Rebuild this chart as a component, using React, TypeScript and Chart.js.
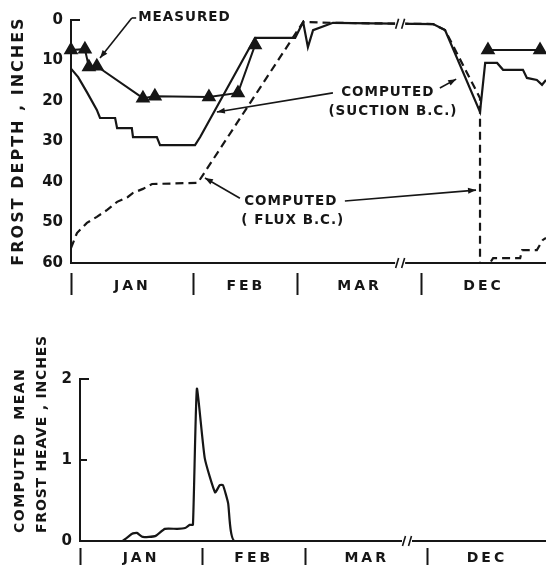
import React, { useEffect, useRef } from "react";
import { Chart, registerables } from "chart.js";

Chart.register(...registerables);

const INK = "#161616";
const FONT = "'DejaVu Sans', sans-serif";

// ---- x axis (time, in day-like units) ----
const monthLabels = ["JAN", "FEB", "MAR", "DEC"];
const monthStarts = [0, 30.9, 57.1, 88.1];
const depthAxisEnd = 119.5;
const heaveAxisEnd = 118;
const axisBreak = 82.8;

// ---- y ticks ----
const depthTicks = [0, 10, 20, 30, 40, 50, 60];
const heaveTicks = [0, 1, 2];

// ---- frost depth: measured ----
const measuredX = [0, 3.5, 4.5, 6.5, 18.1, 21.1, 34.7, 42.0, 46.3, 75, 104.9, 118.0];
const measuredY = [7.4, 7.2, 11.6, 11.4, 19.3, 18.8, 19.0, 18.0, 6.2, null, 7.4, 7.4];

// ---- frost depth: computed (suction B.C.) ----
const suctionX = [0, 1.8, 4.0, 6.5, 7.3, 11.1, 11.6, 15.3, 15.6, 21.6, 22.4, 31.2, 32.5, 46.3, 56.4, 58.4, 59.6, 60.9, 65.9, 91.1, 94.1, 102.9, 104.2, 107.2, 108.7, 113.7, 114.7, 117.2, 118.5, 119.5];
const suctionY = [12.0, 14.1, 17.8, 22.2, 24.2, 24.2, 26.7, 26.7, 28.9, 28.9, 30.9, 30.9, 28.9, 4.4, 4.4, 0.5, 6.7, 2.5, 0.7, 1.0, 2.5, 22.7, 10.6, 10.6, 12.3, 12.3, 14.3, 14.8, 16.0, 14.8];

// ---- frost depth: computed (flux B.C.) ----
const fluxX = [0, 1.5, 4.0, 6.5, 9.1, 11.6, 14.3, 15.6, 18.1, 20.4, 31.9, 58.4, 65.9, 91.1, 94.1, 102.9, 102.9, 105.4, 106.2, 113.0, 113.5, 117.2, 118.7, 119.5];
const fluxY = [56.3, 52.6, 50.1, 48.6, 46.9, 44.9, 43.7, 42.7, 41.7, 40.5, 40.2, 0.5, 0.7, 1.0, 2.5, 19.3, 60, 60, 58.8, 58.8, 56.8, 56.8, 54.3, 53.8];

// ---- computed mean frost heave ----
const heaveX = [0, 10.6, 13.2, 14.4, 15.9, 19.0, 21.5, 24.6, 26.6, 27.8, 28.6, 29.6, 31.6, 34.2, 35.4, 36.2, 37.5, 39.2, 118];
const heaveY = [0, 0, 0.09, 0.1, 0.05, 0.06, 0.15, 0.15, 0.16, 0.2, 0.2, 1.88, 1.02, 0.6, 0.69, 0.69, 0.47, 0, 0];

// ---- annotation labels (data coordinates) ----
const labelTexts = ["MEASURED", "COMPUTED", "(SUCTION B.C.)", "COMPUTED", "( FLUX B.C.)"];
const labelX = [16.9, 79.7, 81.0, 55.3, 55.8];
const labelY = [-0.5, 17.8, 22.7, 44.7, 49.4];
const labelAlign = ["left", "center", "center", "center", "center"];
// leader arrows: [fromX, fromY, toX, toY]
const leaders = [
  [15.3, -0.5, 7.3, 9.4],
  [65.9, 18.0, 36.7, 22.7],
  [92.8, 16.8, 96.9, 14.6],
  [42.5, 44.0, 33.7, 39.0],
  [68.9, 44.7, 101.9, 42.0],
];

const zip = (xs: number[], ys: (number | null)[]) => xs.map((x, i) => ({ x, y: ys[i] }));

function monthAxis(end: number, height: number, gap: number, labelPad: number) {
  const centers = monthStarts.map((s, i) => (s + (i + 1 < monthStarts.length ? monthStarts[i + 1] : end)) / 2);
  const values = [...monthStarts, ...centers];
  const n = monthStarts.length;
  return {
    type: "linear",
    min: 0,
    max: end,
    afterBuildTicks: (s: any) => {
      s.ticks = values.map((v) => ({ value: v }));
    },
    afterFit: (s: any) => {
      s.height = height;
    },
    ticks: {
      autoSkip: false,
      maxRotation: 0,
      minRotation: 0,
      padding: labelPad,
      z: 1,
      color: INK,
      font: { family: FONT, size: 14, weight: "bold" },
      callback: (_v: any, i: number) => (i >= n ? monthLabels[i - n] : ""),
    },
    grid: {
      display: true,
      drawOnChartArea: false,
      drawTicks: true,
      tickLength: 32,
      tickWidth: 2,
      tickColor: (c: any) => (c.index < n ? INK : "rgba(0,0,0,0)"),
      tickBorderDash: [0, gap, 40, 100],
    },
    border: { display: true, color: INK, width: 2 },
  };
}

function arrow(ctx: CanvasRenderingContext2D, x1: number, y1: number, x2: number, y2: number) {
  ctx.beginPath();
  ctx.moveTo(x1, y1);
  ctx.lineTo(x2, y2);
  ctx.stroke();
  const a = Math.atan2(y2 - y1, x2 - x1);
  const L = 8, W = 3;
  ctx.beginPath();
  ctx.moveTo(x2, y2);
  ctx.lineTo(x2 - L * Math.cos(a) + W * Math.sin(a), y2 - L * Math.sin(a) - W * Math.cos(a));
  ctx.lineTo(x2 - L * Math.cos(a) - W * Math.sin(a), y2 - L * Math.sin(a) + W * Math.cos(a));
  ctx.closePath();
  ctx.fill();
}

function drawBreak(ctx: CanvasRenderingContext2D, x: number, y: number) {
  ctx.save();
  ctx.fillStyle = "#fff";
  ctx.fillRect(x - 5, y - 3, 10, 6);
  ctx.strokeStyle = INK;
  ctx.lineWidth = 1.6;
  for (const dx of [-3, 3]) {
    ctx.beginPath();
    ctx.moveTo(x + dx - 1.5, y + 5);
    ctx.lineTo(x + dx + 1.5, y - 5);
    ctx.stroke();
  }
  ctx.restore();
}

function rotatedText(ctx: CanvasRenderingContext2D, text: string, x: number, y: number, align: CanvasTextAlign) {
  ctx.save();
  ctx.translate(x, y);
  ctx.rotate(-Math.PI / 2);
  ctx.textAlign = align;
  ctx.textBaseline = "middle";
  ctx.fillText(text, 0, 0);
  ctx.restore();
}

const spacingPlugin = {
  id: "spacing",
  beforeDraw(chart: any) {
    chart.ctx.letterSpacing = "0px";
  },
  afterDatasetsDraw(chart: any) {
    chart.ctx.letterSpacing = "3px";
  },
};

const depthDecor = {
  id: "depthDecor",
  afterDraw(chart: any) {
    const ctx: CanvasRenderingContext2D = chart.ctx;
    const xs = chart.scales.x, ys = chart.scales.y;
    const px = (v: number) => xs.getPixelForValue(v);
    const py = (v: number) => ys.getPixelForValue(v);
    ctx.save();
    ctx.fillStyle = INK;
    ctx.strokeStyle = INK;
    // axis title
    ctx.font = `bold 16px ${FONT}`;
    ctx.letterSpacing = "2px";
    rotatedText(ctx, "FROST DEPTH , INCHES", 19, 141, "center");
    // top cap on y axis
    ctx.lineWidth = 2;
    ctx.beginPath();
    ctx.moveTo(xs.left, py(0));
    ctx.lineTo(xs.left + 9, py(0));
    ctx.stroke();
    // annotations
    ctx.font = `bold 13.5px ${FONT}`;
    ctx.letterSpacing = "1px";
    ctx.textBaseline = "middle";
    labelTexts.forEach((t, i) => {
      ctx.textAlign = labelAlign[i] as CanvasTextAlign;
      ctx.fillText(t, px(labelX[i]), py(labelY[i]));
    });
    ctx.lineWidth = 1.6;
    leaders.forEach(([a, b, c, d]) => arrow(ctx, px(a), py(b), px(c), py(d)));
    // small hook on MEASURED leader
    ctx.beginPath();
    ctx.moveTo(px(leaders[0][0]), py(leaders[0][1]));
    ctx.lineTo(px(labelX[0]) - 2, py(labelY[0]));
    ctx.stroke();
    ctx.restore();
    // axis breaks
    drawBreak(ctx, px(axisBreak), ys.bottom);
    drawBreak(ctx, px(axisBreak), py(0.95));
    ctx.letterSpacing = "0px";
  },
};

const heaveDecor = {
  id: "heaveDecor",
  afterDraw(chart: any) {
    const ctx: CanvasRenderingContext2D = chart.ctx;
    const xs = chart.scales.x, ys = chart.scales.y;
    ctx.save();
    ctx.fillStyle = INK;
    ctx.strokeStyle = INK;
    ctx.font = `bold 14px ${FONT}`;
    ctx.letterSpacing = "1.5px";
    rotatedText(ctx, "COMPUTED  MEAN", 20, 233, "left");
    ctx.letterSpacing = "0.8px";
    rotatedText(ctx, "FROST HEAVE , INCHES", 42, 233, "left");
    ctx.lineWidth = 2;
    ctx.beginPath();
    ctx.moveTo(xs.left, ys.getPixelForValue(2));
    ctx.lineTo(xs.left + 9, ys.getPixelForValue(2));
    ctx.moveTo(xs.left, ys.getPixelForValue(1));
    ctx.lineTo(xs.left + 7, ys.getPixelForValue(1));
    ctx.stroke();
    ctx.restore();
    drawBreak(ctx, xs.getPixelForValue(axisBreak), ys.bottom);
    ctx.letterSpacing = "0px";
  },
};

export default function App() {
  const topRef = useRef<HTMLCanvasElement>(null);
  const botRef = useRef<HTMLCanvasElement>(null);

  useEffect(() => {
    const top = new Chart(topRef.current as HTMLCanvasElement, {
      type: "line",
      data: {
        datasets: [
          {
            label: "Computed (suction B.C.)",
            data: zip(suctionX, suctionY),
            borderColor: INK,
            borderWidth: 2.2,
            pointRadius: 0,
            tension: 0,
          },
          {
            label: "Computed (flux B.C.)",
            data: zip(fluxX, fluxY),
            borderColor: INK,
            borderWidth: 2.2,
            borderDash: [8, 5],
            pointRadius: 0,
            tension: 0,
          },
          {
            label: "Measured",
            data: zip(measuredX, measuredY),
            borderColor: INK,
            borderWidth: 2,
            pointStyle: "triangle",
            pointRadius: 6.5,
            pointBackgroundColor: INK,
            pointBorderColor: INK,
            spanGaps: false,
            clip: false,
            tension: 0,
          },
        ],
      } as any,
      options: {
        animation: false,
        responsive: false,
        devicePixelRatio: 1,
        layout: { autoPadding: false, padding: { top: 20, left: 0, right: 0, bottom: 0 } },
        plugins: { legend: { display: false }, tooltip: { enabled: false } },
        scales: {
          x: monthAxis(depthAxisEnd, 37, 9, -17) as any,
          y: {
            type: "linear",
            reverse: true,
            min: 0,
            max: 60,
            afterBuildTicks: (s: any) => {
              s.ticks = depthTicks.map((v) => ({ value: v }));
            },
            afterFit: (s: any) => {
              s.width = 71;
            },
            ticks: { padding: 8, color: INK, font: { family: FONT, size: 15, weight: "bold" } },
            grid: { display: false, drawTicks: false },
            border: { display: true, color: INK, width: 2 },
          },
        },
      } as any,
      plugins: [spacingPlugin, depthDecor],
    });

    const bottom = new Chart(botRef.current as HTMLCanvasElement, {
      type: "line",
      data: {
        datasets: [
          {
            label: "Computed mean frost heave",
            data: zip(heaveX, heaveY),
            borderColor: INK,
            borderWidth: 2.2,
            pointRadius: 0,
            tension: 0.15,
          },
        ],
      } as any,
      options: {
        animation: false,
        responsive: false,
        devicePixelRatio: 1,
        layout: { autoPadding: false, padding: { top: 79, left: 0, right: 0, bottom: 0 } },
        plugins: { legend: { display: false }, tooltip: { enabled: false } },
        scales: {
          x: monthAxis(heaveAxisEnd, 24, 6, -23) as any,
          y: {
            type: "linear",
            min: 0,
            max: 2,
            afterBuildTicks: (s: any) => {
              s.ticks = heaveTicks.map((v) => ({ value: v }));
            },
            afterFit: (s: any) => {
              s.width = 80;
            },
            ticks: { padding: 8, color: INK, font: { family: FONT, size: 15, weight: "bold" } },
            grid: { display: false, drawTicks: false },
            border: { display: true, color: INK, width: 2 },
          },
        },
      } as any,
      plugins: [spacingPlugin, heaveDecor],
    });

    return () => {
      top.destroy();
      bottom.destroy();
    };
  }, []);

  return (
    <div style={{ position: "absolute", left: 0, top: 0, width: 546, height: 565, background: "#fff" }}>
      <canvas ref={topRef} width={546} height={300} style={{ position: "absolute", left: 0, top: 0 }} />
      <canvas ref={botRef} width={546} height={265} style={{ position: "absolute", left: 0, top: 300 }} />
    </div>
  );
}
